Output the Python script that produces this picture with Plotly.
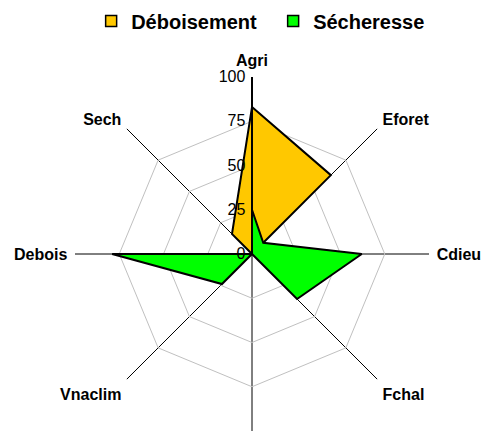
import plotly.graph_objects as go

categories = ["Agri", "Eforet", "Cdieu", "Fchal", " ", "Vnaclim", "Debois", "Sech"]
deboisement = [83, 63, 0, 0, 0, 0, 0, 16]
secheresse = [25, 9, 62, 36, 0, 24, 79, 0]
series_names = ["Déboisement", "Sécheresse"]
fill_colors = ["#FFC800", "#00FF00"]

def closed(v):
    return v + v[:1]

fig = go.Figure()
for name, vals, col in zip(series_names, [deboisement, secheresse], fill_colors):
    fig.add_trace(go.Scatterpolar(
        r=closed(vals), theta=closed(categories), name=name,
        fill="toself", fillcolor=col, mode="lines",
        line=dict(color="black", width=2), showlegend=False,
    ))
# square legend keys
for name, col in zip(series_names, fill_colors):
    fig.add_trace(go.Scatterpolar(
        r=[None], theta=[categories[0]], name=name, mode="markers",
        marker=dict(symbol="square", size=11, color=col, line=dict(color="black", width=1.5)),
    ))

fig.update_layout(
    width=491, height=438,
    margin=dict(l=0, r=0, t=0, b=0, autoexpand=False),
    paper_bgcolor="white", plot_bgcolor="white",
    font=dict(family="Arial, Liberation Sans", color="black"),
    legend=dict(
        orientation="h", x=0.54, y=1.015, xanchor="center", yanchor="top",
        font=dict(size=20, weight="bold"), itemwidth=30,
        entrywidth=137, entrywidthmode="pixels",
    ),
    polar=dict(
        domain=dict(x=[67 / 491, 421 / 491], y=[15 / 438, 369 / 438]),
        bgcolor="white",
        gridshape="linear",
        radialaxis=dict(
            range=[0, 100], tickvals=[0, 25, 50, 75, 100], angle=90, tickangle=90,
            side="counterclockwise", showline=True, linecolor="black", linewidth=2,
            gridcolor="#C0C0C0", gridwidth=1, ticks="",
            tickfont=dict(size=16),
        ),
        angularaxis=dict(
            direction="clockwise", rotation=90,
            showline=False, gridcolor="black", gridwidth=1,
            ticks="outside", ticklen=4, tickcolor="rgba(0,0,0,0)",
            tickfont=dict(size=16, weight="bold"),
        ),
    ),
)

fig.write_html("out.html")
